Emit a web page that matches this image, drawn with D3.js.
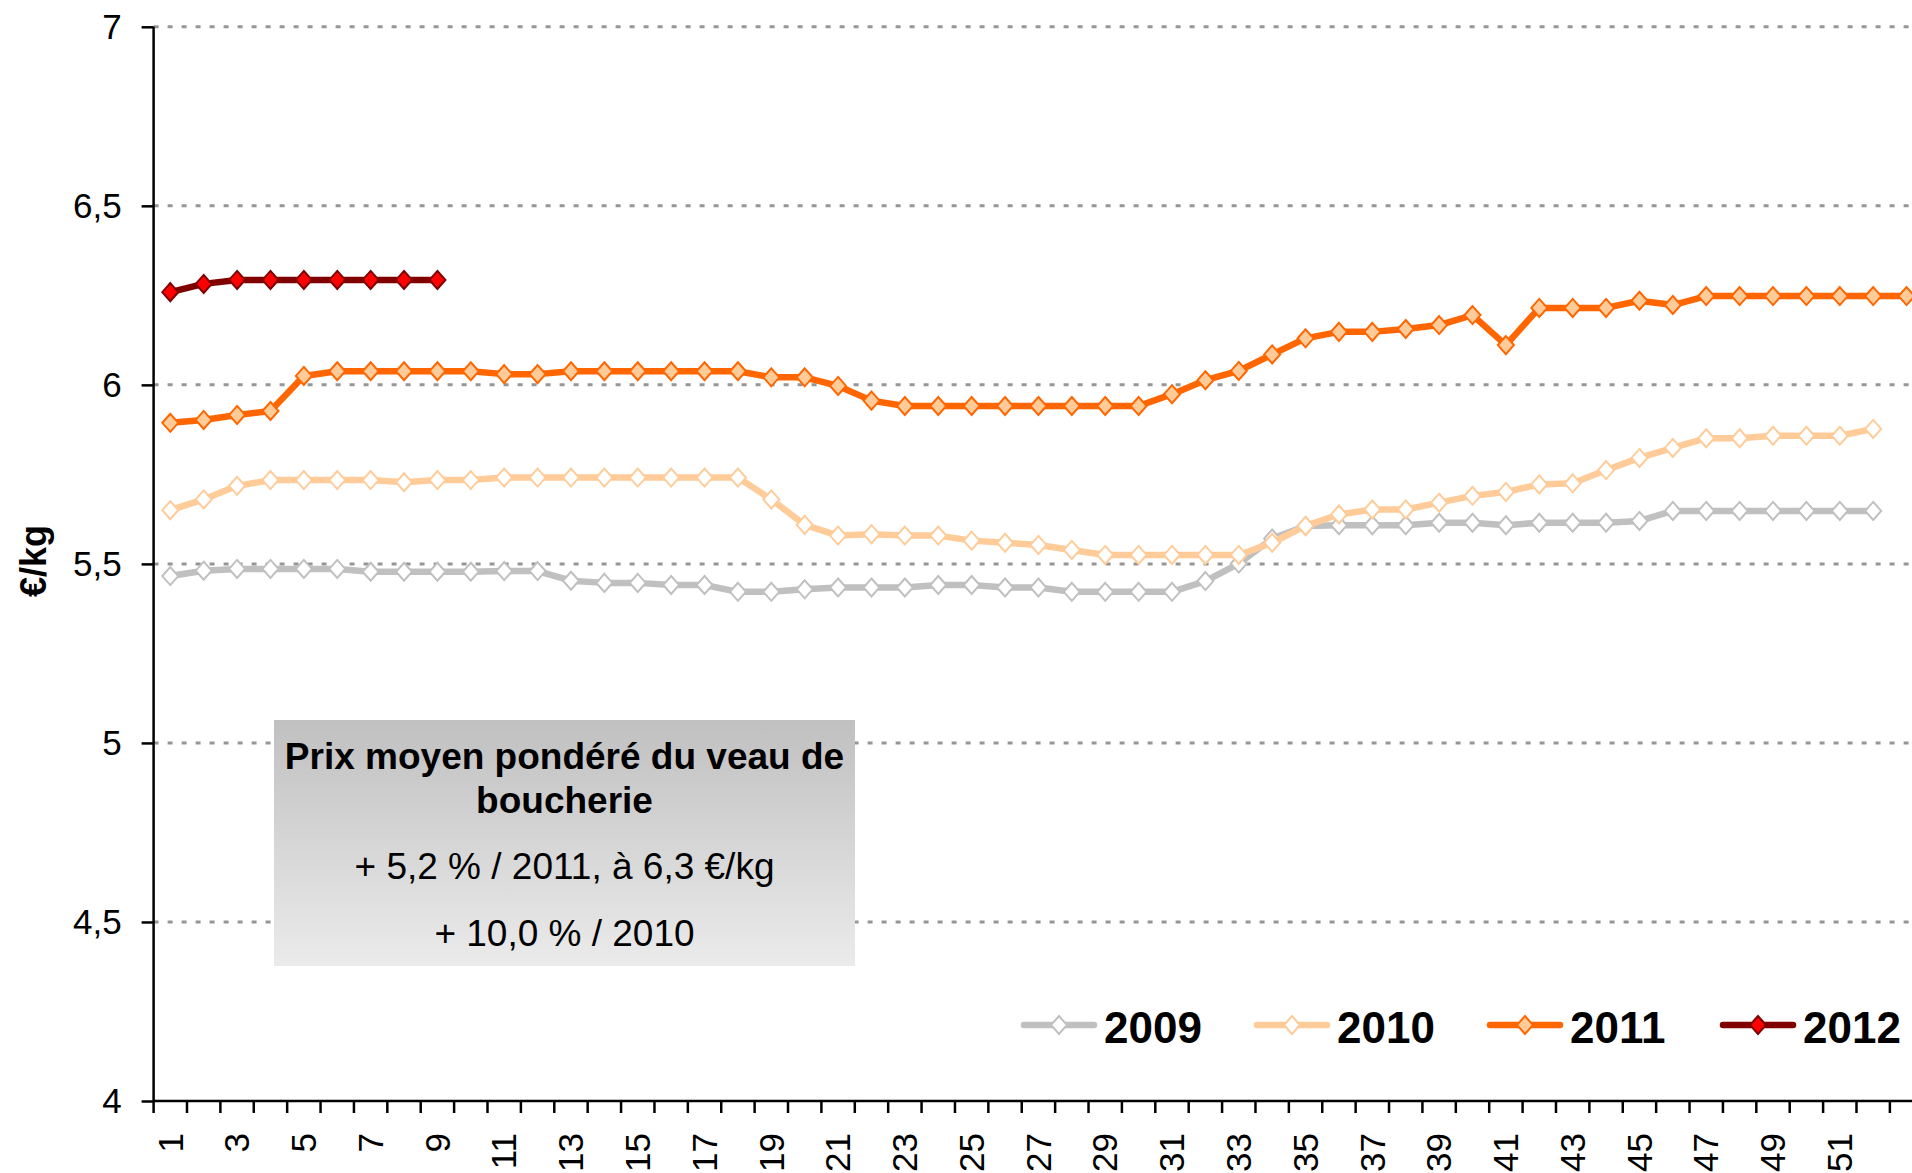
<!DOCTYPE html>
<html>
<head>
<meta charset="utf-8">
<script src="https://cdn.jsdelivr.net/npm/d3@7"></script>
<style>
  body { margin: 0; background: #fff; }
  svg { display: block; font-family: "Liberation Sans", Arial, sans-serif; }
</style>
</head>
<body>
<script>
// weeks on the x axis
var weeks = d3.range(1, 54);
var weekLabels = weeks.filter(w => w % 2 === 1 && w < 53);
var yTicks = [4, 4.5, 5, 5.5, 6, 6.5, 7];

// weekly price, €/kg
var v2009 = [5.466, 5.481, 5.486, 5.486, 5.486, 5.486, 5.478, 5.478, 5.478, 5.478,
    5.480, 5.480, 5.453, 5.447, 5.447, 5.441, 5.441, 5.422, 5.422, 5.429,
    5.434, 5.434, 5.434, 5.441, 5.441, 5.434, 5.434, 5.422, 5.422, 5.422,
    5.422, 5.452, 5.501, 5.571, 5.606, 5.608, 5.608, 5.608, 5.615, 5.615,
    5.608, 5.615, 5.615, 5.615, 5.620, 5.648, 5.648, 5.648, 5.648, 5.648,
    5.648, 5.648];
var v2010 = [5.650, 5.680, 5.718, 5.734, 5.734, 5.734, 5.734, 5.728, 5.734, 5.734,
    5.741, 5.741, 5.741, 5.741, 5.741, 5.741, 5.741, 5.741, 5.680, 5.609,
    5.579, 5.583, 5.579, 5.579, 5.565, 5.559, 5.553, 5.539, 5.525, 5.525,
    5.525, 5.525, 5.525, 5.559, 5.606, 5.638, 5.652, 5.652, 5.671, 5.690,
    5.701, 5.722, 5.725, 5.762, 5.796, 5.824, 5.851, 5.851, 5.858, 5.858,
    5.858, 5.877];
var v2011 = [5.894, 5.902, 5.916, 5.927, 6.025, 6.038, 6.038, 6.038, 6.038, 6.038,
    6.030, 6.030, 6.038, 6.038, 6.038, 6.038, 6.038, 6.038, 6.021, 6.021,
    5.997, 5.956, 5.941, 5.941, 5.941, 5.941, 5.941, 5.941, 5.941, 5.941,
    5.974, 6.013, 6.039, 6.085, 6.130, 6.148, 6.148, 6.156, 6.167, 6.195,
    6.111, 6.215, 6.215, 6.215, 6.235, 6.223, 6.248, 6.248, 6.248, 6.248,
    6.248, 6.248, 6.248];
var v2012 = [6.259, 6.282, 6.293, 6.293, 6.293, 6.293, 6.293, 6.293, 6.293];

var seriesNames = ["2009", "2010", "2011", "2012"];
var seriesValues = [v2009, v2010, v2011, v2012];
var lineColors = ["#c0c0c0", "#ffcc99", "#ff6600", "#800000"];
var markerFills = ["#ffffff", "#ffffff", "#ffcc99", "#ff0000"];

var boxLines = ["Prix moyen pondéré du veau de", "boucherie",
    "+ 5,2 % / 2011, à 6,3 €/kg", "+ 10,0 % / 2010"];

//Width and height
var w = 1912;
var h = 1173;
var plotLeft = 153.6, plotTop = 26.8, plotBottom = 1101;
var step = 33.39;

var x = d3.scaleBand()
    .domain(weeks)
    .range([plotLeft, plotLeft + weeks.length * step]);

var y = d3.scaleLinear()
    .domain([4, 7])
    .range([plotBottom, plotTop]);

var svg = d3.select("body")
    .append("svg")
    .attr("width", w)
    .attr("height", h);

// dotted gridlines
svg.append("g")
    .selectAll("line")
    .data(yTicks.filter(d => d > 4))
    .enter()
    .append("line")
    .attr("x1", plotLeft)
    .attr("x2", w)
    .attr("y1", d => y(d))
    .attr("y2", d => y(d))
    .attr("stroke", "#969696")
    .attr("stroke-width", 3)
    .attr("stroke-dasharray", "5,9");

// y axis
var yAxis = svg.append("g")
    .attr("transform", "translate(" + plotLeft + ",0)")
    .call(d3.axisLeft(y)
        .tickValues(yTicks)
        .tickSize(12)
        .tickPadding(20)
        .tickFormat(d => String(d).replace(".", ",")));

// x axis: labels on odd weeks, ticks between categories
var xAxis = svg.append("g")
    .attr("transform", "translate(0," + plotBottom + ")")
    .call(d3.axisBottom(x)
        .tickValues(weekLabels)
        .tickSize(0)
        .tickPadding(0));

xAxis.selectAll(".tick text")
    .attr("transform", "translate(0,32) rotate(-90)")
    .attr("text-anchor", "end")
    .attr("x", 0)
    .attr("y", 0)
    .attr("dy", "0.35em");

xAxis.selectAll(".sep")
    .data(weeks.map(d => x(d)).concat([x(53) + step]))
    .enter()
    .append("line")
    .attr("class", "sep")
    .attr("x1", d => d)
    .attr("x2", d => d)
    .attr("y1", 0)
    .attr("y2", 12)
    .attr("stroke", "#000")
    .attr("stroke-width", 2.5);

svg.selectAll(".domain")
    .attr("stroke", "#000")
    .attr("stroke-width", 2.5);
yAxis.select(".domain").attr("d", "M0," + plotTop + "V" + plotBottom);
xAxis.select(".domain").attr("d", "M" + plotLeft + ",0H" + w);
yAxis.selectAll(".tick line").attr("stroke-width", 2.5);
svg.selectAll(".tick text")
    .attr("font-family", "Liberation Sans, Arial, sans-serif")
    .attr("font-size", "35px")
    .attr("fill", "#000");

// y axis title
svg.append("text")
    .attr("transform", "translate(33,561) rotate(-90)")
    .attr("text-anchor", "middle")
    .attr("dy", "0.35em")
    .attr("font-size", "36px")
    .attr("font-weight", "bold")
    .text("€/kg");

// text box with gradient
var grad = svg.append("defs")
    .append("linearGradient")
    .attr("id", "boxgrad")
    .attr("x1", 0).attr("y1", 0).attr("x2", 0).attr("y2", 1);
grad.append("stop").attr("offset", "0%").attr("stop-color", "#c0c0c0");
grad.append("stop").attr("offset", "100%").attr("stop-color", "#ebebeb");

svg.append("rect")
    .attr("x", 274)
    .attr("y", 720)
    .attr("width", 581)
    .attr("height", 246)
    .attr("fill", "url(#boxgrad)");

var boxBase = [769, 813, 879, 946];
svg.selectAll(".boxtext")
    .data(boxLines)
    .enter()
    .append("text")
    .attr("class", "boxtext")
    .attr("x", 564.5)
    .attr("y", (d, i) => boxBase[i])
    .attr("text-anchor", "middle")
    .attr("font-size", "37px")
    .attr("font-weight", (d, i) => i < 2 ? "bold" : "normal")
    .text(d => d);

// series
var line = d3.line()
    .x((d, i) => x(weeks[i]) + step / 2)
    .y(d => y(d));

function diamond(cx, cy) {
    return "M" + cx + "," + (cy - 9) + "L" + (cx + 8) + "," + cy +
        "L" + cx + "," + (cy + 9) + "L" + (cx - 8) + "," + cy + "Z";
}

seriesValues.forEach(function (vals, s) {
    var g = svg.append("g");
    g.append("path")
        .datum(vals)
        .attr("d", line)
        .attr("fill", "none")
        .attr("stroke", lineColors[s])
        .attr("stroke-width", 6.5)
        .attr("stroke-linejoin", "round");
    g.selectAll("path.mk")
        .data(vals)
        .enter()
        .append("path")
        .attr("class", "mk")
        .attr("d", (d, i) => diamond(x(weeks[i]) + step / 2, y(d)))
        .attr("fill", markerFills[s])
        .attr("stroke", lineColors[s])
        .attr("stroke-width", 2);
});

// legend
var legend = svg.selectAll(".legend")
    .data(seriesNames)
    .enter()
    .append("g")
    .attr("class", "legend")
    .attr("transform", (d, i) => "translate(" + (1024 + i * 233) + ",1025)");

legend.append("line")
    .attr("x1", 0)
    .attr("x2", 70)
    .attr("stroke", (d, i) => lineColors[i])
    .attr("stroke-width", 6.5)
    .attr("stroke-linecap", "round");

legend.append("path")
    .attr("d", diamond(35, 0))
    .attr("fill", (d, i) => markerFills[i])
    .attr("stroke", (d, i) => lineColors[i])
    .attr("stroke-width", 2);

legend.append("text")
    .attr("x", 80)
    .attr("y", 18)
    .attr("font-size", "44px")
    .attr("font-weight", "bold")
    .text(d => d);
</script>
</body>
</html>
